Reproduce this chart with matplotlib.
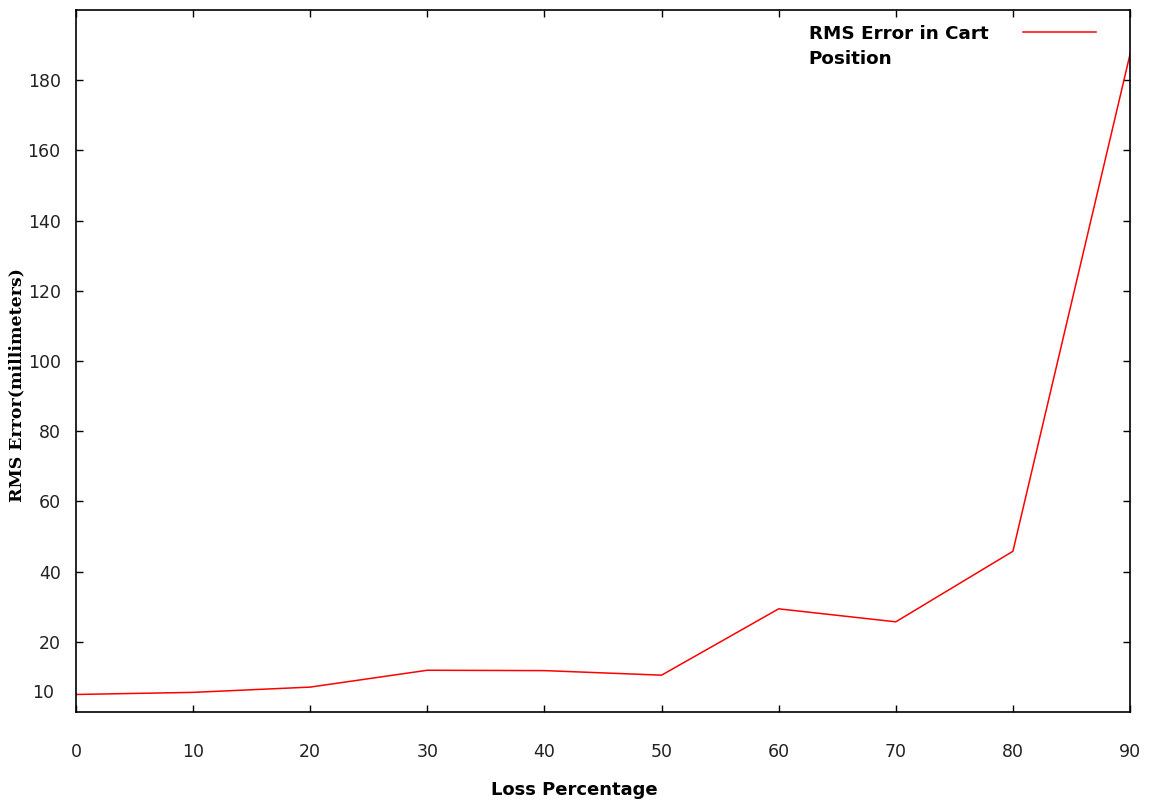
import numpy as np
import matplotlib.pyplot as plt

# loss percentage vs RMS error of the cart position
loss_pct = [0, 10, 20, 30, 40, 50, 60, 70, 80, 90]
rms_error = [5.0, 5.6, 7.1, 11.9, 11.8, 10.5, 29.4, 25.7, 45.8, 187.4]
y_ticks = [20, 40, 60, 80, 100, 120, 140, 160, 180]
x_ticks = [0, 10, 20, 30, 40, 50, 60, 70, 80, 90]
series_label = "RMS Error in Cart\nPosition"

fig = plt.figure(figsize=(11.49, 8.05), dpi=100)
ax = fig.add_axes([0.0661, 0.1155, 0.9174, 0.872])

ax.plot(loss_pct, rms_error, color='red', linewidth=1.1)

ax.set_xlim(0, 90)
ax.set_ylim(0, 200)
ax.set_xticks(x_ticks)
ax.set_yticks(y_ticks)
ax.tick_params(direction='in', length=5, width=1, top=True, right=True,
               labelsize=12.5, colors='black')
ax.tick_params(axis='y', pad=11)
ax.tick_params(axis='x', pad=22)
for lab in ax.get_xticklabels() + ax.get_yticklabels():
    lab.set_family('DejaVu Sans')
    lab.set_color('#222222')
for s in ax.spines.values():
    s.set_linewidth(1.2)

# lone "10" label near the bottom of the y axis (no tick)
ax.text(-0.021, 5.4, "10", transform=ax.get_yaxis_transform(), ha='right',
        va='center', fontsize=12.5, family='DejaVu Sans', color='#222222')

ax.set_xlabel("Loss Percentage", fontsize=13, fontweight='bold',
              family='DejaVu Sans', va='center')
ax.xaxis.set_label_coords(0.473, -0.111)
ax.set_ylabel("RMS Error(millimeters)", fontsize=12.5, fontweight='bold',
              family='DejaVu Serif')
ax.yaxis.set_label_coords(-0.048, 0.466)

# key in the top right corner
ax.text(0.695, 0.979, series_label, transform=ax.transAxes, ha='left', va='top',
        fontsize=13.2, fontweight='bold', family='DejaVu Sans', linespacing=1.5)
ax.plot([0.898, 0.968], [0.969, 0.969], transform=ax.transAxes,
        color='red', linewidth=1.1)

fig.savefig('out.png', dpi=100)
